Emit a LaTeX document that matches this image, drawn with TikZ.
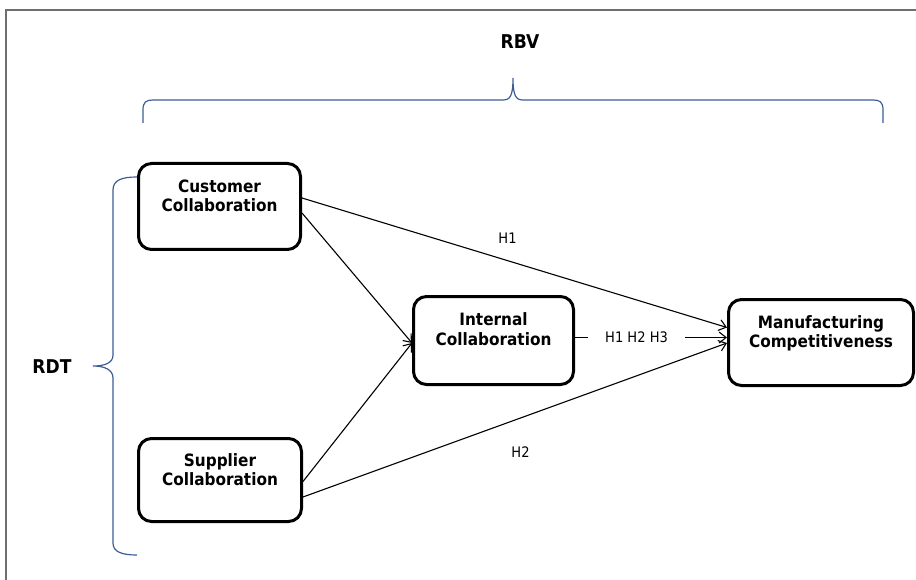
\documentclass[tikz,border=0pt]{standalone}
\usepackage{fontspec}
\setmainfont{DejaVu Sans}[FakeStretch=0.9]
\usetikzlibrary{arrows.meta,calc}
\definecolor{bracec}{RGB}{62,92,150}
\definecolor{framec}{RGB}{110,110,110}
\begin{document}
\begin{tikzpicture}[x=1pt,y=-1pt,
  box/.style={draw=black,line width=3pt,rounded corners=13pt,inner sep=0pt},
  boxtext/.style={anchor=north,inner sep=0pt,align=center,font=\fontsize{17}{19.5}\selectfont\bfseries},
  conn/.style={draw=black,line width=1.1pt,-{Straight Barb[length=7pt,width=11pt,line width=1.1pt]}},
  hlab/.style={inner sep=0pt,font=\fontsize{14.5}{17}\selectfont},
  theory/.style={inner sep=0pt,font=\fontsize{19}{21}\selectfont\bfseries},
  brace/.style={draw=bracec,line width=1.2pt}]
\useasboundingbox (0,0) rectangle (916,580);
% frame
\draw[framec,line width=1.5pt] (6,580) -- (6,10) -- (916,10);
% boxes
\node[box,minimum width=162pt,minimum height=86pt] (cust) at (219.5,206.5) {};
\node[box,minimum width=163pt,minimum height=83pt] (sup) at (220,480) {};
\node[box,minimum width=160pt,minimum height=88pt] (int) at (493.5,340.5) {};
\node[box,minimum width=185pt,minimum height=86pt] (man) at (821,342.5) {};
% box texts
\node[boxtext] (custt) at ($(cust.north)+(0,16.5)$) {\strut Customer\\Collaboration};
\node[boxtext] (supt) at ($(sup.north)+(0,15.5)$) {\strut Supplier\\Collaboration};
\node[boxtext] (intt) at ($(int.north)+(0,17)$) {\strut Internal\\Collaboration};
\node[boxtext] (mant) at ($(man.north)+(0,16.5)$) {\strut Manufacturing\\Competitiveness};
% theory labels
\node[theory] (rbv) at (520,42) {RBV};
\node[theory] (rdt) at (52,367) {RDT};
% braces
\draw[brace] (143,123) -- (143,110) .. controls (143,102) and (146,100) .. (153,100)
  -- (503,100) .. controls (510,100) and (513,96) .. (513,78)
  .. controls (513,96) and (516,100) .. (523,100)
  -- (873,100) .. controls (880,100) and (883,102) .. (883,110) -- (883,123);
\draw[brace] (137,177) .. controls (122,177) and (113,180) .. (113,190)
  -- (113,355) .. controls (113,363) and (105,366) .. (93,366)
  .. controls (105,366) and (113,370) .. (113,378)
  -- (113,543) .. controls (113,552) and (122,555) .. (137,555);
% connectors
\draw[conn] ($(cust.east)+(0,-8.5)$) -- node[hlab,pos=0.4835,yshift=22.6pt] (h1) {H1} ($(man.west)+(0,-15)$);
\draw[conn] ($(cust.east)+(0,6.5)$) -- ($(int.west)+(0,2.5)$);
\draw[conn] ($(sup.east)+(0,1.5)$) -- ($(int.west)+(0,2.5)$);
\draw[conn] ($(sup.east)+(0,17)$) -- node[hlab,pos=0.513,yshift=-34pt] (h2) {H2} ($(man.west)+(0,0.5)$);
\draw[conn] ($(int.east)+(0,-3)$) -- node[hlab,pos=0.405,fill=white,inner xsep=17pt,inner ysep=3pt] (h123) {H1 H2 H3} ($(man.west)+(0,-5)$);
\end{tikzpicture}
\end{document}
